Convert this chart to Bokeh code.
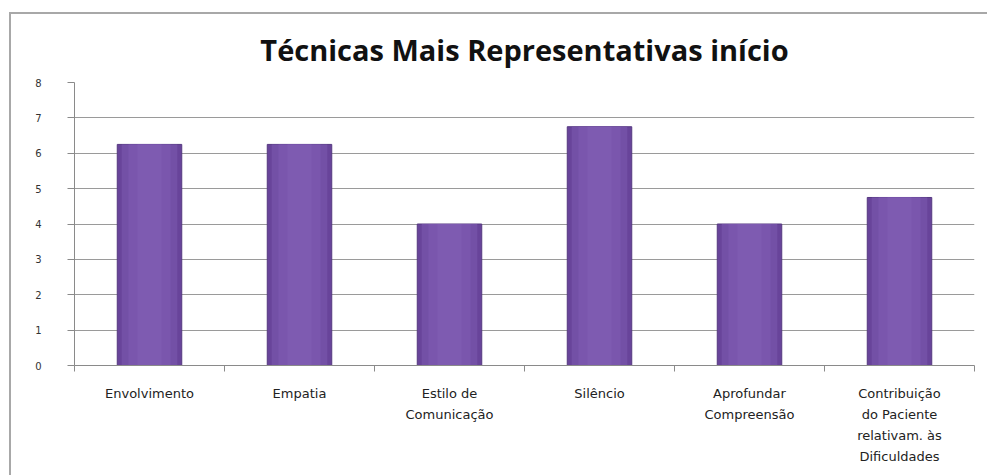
from bokeh.plotting import figure
from bokeh.models import Range1d, FixedTicker, ColumnDataSource
from bokeh.embed import file_html
from bokeh.resources import INLINE

categories = ["Envolvimento", "Empatia", "Estilo de\nComunicação", "Silêncio",
              "Aprofundar\nCompreensão",
              "Contribuição\ndo Paciente\nrelativam. às\nDificuldades"]
values = [6.25, 6.25, 4.0, 6.75, 4.0, 4.75]
y_ticks = [0, 1, 2, 3, 4, 5, 6, 7, 8]
title_text = "Técnicas Mais Representativas início"

n = len(categories)
xs = [i + 0.5 for i in range(n)]
src = ColumnDataSource(dict(x=xs, top=values))

p = figure(width=978, height=463, x_range=Range1d(0, n), y_range=Range1d(0, 8),
           output_backend="svg", toolbar_location=None,
           min_border_left=63, min_border_right=15, min_border_top=68, min_border_bottom=112,
           margin=(12, 0, 0, 9))
p.styles = {"border-top": "2px solid #a8a8a8", "border-left": "2px solid #a8a8a8"}
p.outline_line_color = None
p.background_fill_color = "white"

p.title.text = title_text
p.title.align = "center"
p.title.text_font = "Open Sans"
p.title.text_font_style = "bold"
p.title.text_font_size = "29px"
p.title.text_color = "#111111"
p.title.standoff = 27

# bars
p.vbar(x="x", top="top", width=0.43, source=src, fill_color="#68449a",
       line_color="#553880", line_width=1)
p.vbar(x="x", top="top", width=0.37, source=src, fill_color="#7350a6",
       line_color=None)
p.vbar(x="x", top="top", width=0.28, source=src, fill_color="#7a56ad",
       line_color=None)
p.vbar(x="x", top="top", width=0.16, source=src, fill_color="#7e5bb1",
       line_color=None)

# axes
yax = p.yaxis[0]
yax.ticker = FixedTicker(ticks=y_ticks)
yax.axis_line_color = "#8a8a8a"
yax.major_tick_line_color = "#8a8a8a"
yax.major_tick_out = 7
yax.major_tick_in = 0
yax.minor_tick_line_color = None
yax.major_label_text_font = "DejaVu Sans"
yax.major_label_text_font_size = "10px"
yax.major_label_text_color = "#333333"
yax.major_label_standoff = 26

xax = p.xaxis[0]
xax.ticker = FixedTicker(ticks=xs, minor_ticks=list(range(n + 1)))
xax.major_label_overrides = {x: c for x, c in zip(xs, categories)}
xax.axis_line_color = "#8a8a8a"
xax.major_tick_line_color = None
xax.minor_tick_line_color = "#8a8a8a"
xax.minor_tick_out = 6
xax.minor_tick_in = 0
xax.major_label_text_font = "DejaVu Sans"
xax.major_label_text_font_size = "13px"
xax.major_label_text_color = "#222222"
xax.major_label_standoff = 14
xax.major_label_text_line_height = 1.4

p.xgrid.grid_line_color = None
p.ygrid.ticker = FixedTicker(ticks=y_ticks)
p.ygrid.grid_line_color = "#9a9a9a"
p.ygrid.grid_line_width = 1

open("out.html", "w").write(file_html(p, INLINE))
